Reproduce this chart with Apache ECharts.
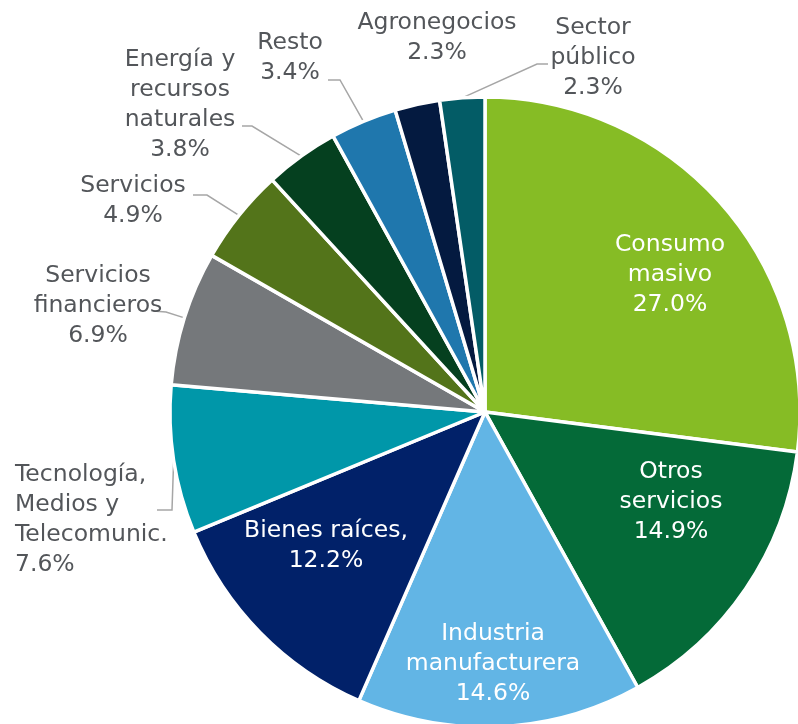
<!DOCTYPE html>
<html>
<head>
<meta charset="utf-8">
<script src="https://cdn.jsdelivr.net/npm/echarts@6/dist/echarts.min.js"></script>
<style>html,body{margin:0;padding:0;background:#fff}#c{width:798px;height:724px}</style>
</head>
<body>
<div id="c"></div>
<script>
// Data
var categories = ['Consumo masivo', 'Otros servicios', 'Industria manufacturera', 'Bienes raíces,', 'Tecnología, Medios y Telecomunic.', 'Servicios financieros', 'Servicios', 'Energía y recursos naturales', 'Resto', 'Agronegocios', 'Sector público'];
var labelText = ['Consumo\nmasivo', 'Otros\nservicios', 'Industria\nmanufacturera', 'Bienes raíces,', 'Tecnología,\nMedios y\nTelecomunic.', 'Servicios\nfinancieros', 'Servicios', 'Energía y\nrecursos\nnaturales', 'Resto', 'Agronegocios', 'Sector\npúblico'];
var values = [27.0, 14.9, 14.6, 12.2, 7.6, 6.9, 4.9, 3.8, 3.4, 2.3, 2.3];
var colors = ['#86BC25', '#046A38', '#62B5E5', '#012169', '#0097A9', '#75787B', '#53741A', '#05401F', '#1F77AD', '#041A40', '#035C66'];
var inside = [true, true, true, true, false, false, false, false, false, false, false];

// Layout (styles)
var CX = 485, CY = 412, R = 315;
var labelPos = [
  {x: 670, y: 275, align: 'center'},
  {x: 671, y: 502, align: 'center'},
  {x: 493, y: 664, align: 'center'},
  {x: 326, y: 546, align: 'center'},
  {x: 15, y: 520, align: 'left'},
  {x: 98, y: 306, align: 'center'},
  {x: 133, y: 201, align: 'center'},
  {x: 180, y: 105, align: 'center'},
  {x: 290, y: 58, align: 'center'},
  {x: 437, y: 38, align: 'center'},
  {x: 593, y: 58, align: 'center'}
];
var leader = [
  null, null, null, null,
  [[172, 510], [157, 510]],
  [[166, 312], [153, 311]],
  [[207, 195], [193, 195]],
  [[252, 126], [242, 126]],
  [[340, 80], [328, 80]],
  null,
  [[537, 64], [548, 64]]
];

var total = values.reduce(function (a, b) { return a + b; }, 0);
function midPoint(i) {
  var cum = 0;
  for (var k = 0; k < i; k++) cum += values[k];
  var frac = (cum + values[i] / 2) / total;
  var ang = frac * 2 * Math.PI; // clockwise from top
  return [CX + R * Math.sin(ang), CY - R * Math.cos(ang)];
}

var data = values.map(function (v, i) {
  return {
    name: categories[i],
    value: v,
    itemStyle: {color: colors[i]},
    label: {
      position: inside[i] ? 'inside' : 'outside',
      color: inside[i] ? '#FFFFFF' : '#53565A'
    },
    labelLine: {show: !!leader[i]}
  };
});

var chart = echarts.init(document.getElementById('c'), null, {renderer: 'canvas'});
chart.setOption({
  animation: false,
  series: [{
    type: 'pie',
    center: [CX, CY],
    radius: [0, R],
    startAngle: 90,
    clockwise: true,
    avoidLabelOverlap: false,
    itemStyle: {borderColor: '#FFFFFF', borderWidth: 3.5},
    label: {
      show: true,
      fontFamily: 'DejaVu Sans',
      fontSize: 23.5,
      lineHeight: 30,
      formatter: function (p) {
        return labelText[p.dataIndex] + '\n' + p.value.toFixed(1) + '%';
      }
    },
    labelLine: {
      lineStyle: {color: '#A6A6A6', width: 1.5},
      length: 10, length2: 10
    },
    labelLayout: function (p) {
      var i = p.dataIndex;
      var lp = labelPos[i];
      var res = {x: lp.x, y: lp.y, align: lp.align, verticalAlign: 'middle'};
      if (leader[i]) {
        res.labelLinePoints = [midPoint(i)].concat(leader[i]);
      }
      return res;
    },
    data: data
  }]
});
</script>
</body>
</html>
